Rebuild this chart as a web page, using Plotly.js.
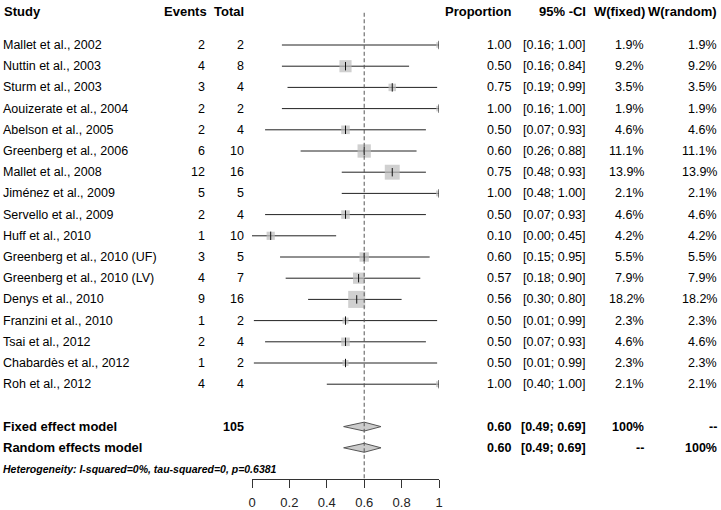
<!DOCTYPE html>
<html>
<head>
<meta charset="utf-8">
<script src="https://cdn.plot.ly/plotly-3.0.1.min.js"></script>
<style>html,body{margin:0;padding:0;background:#fff;}#chart{width:721px;height:510px;}</style>
</head>
<body>
<div id="chart"></div>
<script>
// ---- data ----
const studies = ["Mallet et al., 2002","Nuttin et al., 2003","Sturm et al., 2003","Aouizerate et al., 2004",
  "Abelson et al., 2005","Greenberg et al., 2006","Mallet et al., 2008","Jiménez et al., 2009",
  "Servello et al., 2009","Huff et al., 2010","Greenberg et al., 2010 (UF)","Greenberg et al., 2010 (LV)",
  "Denys et al., 2010","Franzini et al., 2010","Tsai et al., 2012","Chabardès et al., 2012","Roh et al., 2012"];
const events = [2,4,3,2,2,6,12,5,2,1,3,4,9,1,2,1,4];
const totals = [2,8,4,2,4,10,16,5,4,10,5,7,16,2,4,2,4];
const proportion = [1.00,0.50,0.75,1.00,0.50,0.60,0.75,1.00,0.50,0.10,0.60,0.57,0.56,0.50,0.50,0.50,1.00];
const ciLower = [0.16,0.16,0.19,0.16,0.07,0.26,0.48,0.48,0.07,0.00,0.15,0.18,0.30,0.01,0.07,0.01,0.40];
const ciUpper = [1.00,0.84,0.99,1.00,0.93,0.88,0.93,1.00,0.93,0.45,0.95,0.90,0.80,0.99,0.93,0.99,1.00];
const wFixed = [1.9,9.2,3.5,1.9,4.6,11.1,13.9,2.1,4.6,4.2,5.5,7.9,18.2,2.3,4.6,2.3,2.1];
const wRandom = [1.9,9.2,3.5,1.9,4.6,11.1,13.9,2.1,4.6,4.2,5.5,7.9,18.2,2.3,4.6,2.3,2.1];
const models = ["Fixed effect model","Random effects model"];
const modelEst = [0.60,0.60];
const modelLower = [0.49,0.49];
const modelUpper = [0.69,0.69];
const modelWFixed = ["100%","--"];
const modelWRandom = ["--","100%"];
const totalN = 105;
const heterogeneity = "Heterogeneity: I-squared=0%, tau-squared=0, p=0.6381";
const headers = ["Study","Events","Total","Proportion","95% -CI","W(fixed)","W(random)"];
const tickVals = [0,0.2,0.4,0.6,0.8,1];
const tickText = ["0","0.2","0.4","0.6","0.8","1"];

// ---- layout helpers ----
const W = 721, H = 510;
const n = studies.length;
const studyRows = studies.map((s,i)=>i);
const modelRows = [n+1, n+2];
const hetRow = n+3;
const headerRow = -1.56;
const px = v => v / W;
const colRight = {events:207, total:245.5, prop:512.5, ci:588, wf:645.5, wr:718.5};
const FONT = "Liberation Sans, Arial, Helvetica, sans-serif";
const fmt2 = v => v.toFixed(2);

const traces = [];
// CI lines
const lx = [], ly = [];
studies.forEach((s,i)=>{ lx.push(ciLower[i], ciUpper[i], null); ly.push(studyRows[i], studyRows[i], null); });
traces.push({x:lx, y:ly, mode:'lines', line:{color:'#222', width:1}, hoverinfo:'skip', showlegend:false});
// squares
traces.push({x:proportion, y:studyRows, mode:'markers', hoverinfo:'skip', showlegend:false,
  marker:{symbol:'square', color:'#bcbcbc', size:wFixed.map(w=>4*Math.sqrt(w)), line:{width:0}}});
// point tick
traces.push({x:proportion, y:studyRows, mode:'markers', hoverinfo:'skip', showlegend:false,
  marker:{symbol:'line-ns', size:6, color:'#111', line:{width:1, color:'#111'}}});
// diamonds
models.forEach((m,k)=>{
  const r = modelRows[k], h = 0.21;
  traces.push({x:[modelLower[k], modelEst[k], modelUpper[k], modelEst[k], modelLower[k]],
    y:[r, r-h, r, r+h, r], mode:'lines', fill:'toself', fillcolor:'#cccccc',
    line:{color:'#555', width:1}, hoverinfo:'skip', showlegend:false});
});

const ann = [];
function txt(x, y, text, anchor, opts={}) {
  ann.push(Object.assign({xref:'paper', yref:'y', x:px(x), y:y, text:text, xanchor:anchor, yanchor:'middle',
    showarrow:false, font:{family:FONT, size:12.5, color:'#000'}}, opts));
}
const bold = {font:{family:FONT, size:13, color:'#000', weight:'bold'}};
// headers
txt(2, headerRow, headers[0], 'left', bold);
txt(colRight.events+1.5, headerRow, headers[1], 'right', bold);
txt(colRight.total+0.5, headerRow, headers[2], 'right', bold);
txt(colRight.prop, headerRow, headers[3], 'right', bold);
txt(colRight.ci, headerRow, headers[4], 'right', bold);
txt(colRight.wf+1, headerRow, headers[5], 'right', bold);
txt(colRight.wr, headerRow, headers[6], 'right', bold);
// studies
studies.forEach((s,i)=>{
  const r = studyRows[i];
  txt(1, r, s, 'left');
  txt(colRight.events, r, String(events[i]), 'right');
  txt(colRight.total, r, String(totals[i]), 'right');
  txt(colRight.prop, r, fmt2(proportion[i]), 'right');
  txt(colRight.ci, r, '[' + fmt2(ciLower[i]) + '; ' + fmt2(ciUpper[i]) + ']', 'right');
  txt(colRight.wf, r, wFixed[i].toFixed(1) + '%', 'right');
  txt(colRight.wr, r, wRandom[i].toFixed(1) + '%', 'right');
});
// models
const boldBody = {font:{family:FONT, size:12.5, color:'#000', weight:'bold'}};
const boldModel = {font:{family:FONT, size:13, color:'#000', weight:'bold'}};
models.forEach((m,k)=>{
  const r = modelRows[k];
  txt(1, r, m, 'left', boldModel);
  if (k===0) txt(colRight.total, r, String(totalN), 'right', boldBody);
  txt(colRight.prop, r, fmt2(modelEst[k]), 'right', boldBody);
  txt(colRight.ci, r, '[' + fmt2(modelLower[k]) + '; ' + fmt2(modelUpper[k]) + ']', 'right', boldBody);
  txt(colRight.wf, r, modelWFixed[k], 'right', boldBody);
  txt(colRight.wr, r, modelWRandom[k], 'right', boldBody);
});
txt(1, hetRow, '<b><i>' + heterogeneity + '</i></b>', 'left', {font:{family:FONT, size:10.5, color:'#000'}});

const rowPx = 21.2, firstRowPx = 45, axisPx = 479;
const yTop = -firstRowPx/rowPx, yBottom = (axisPx-firstRowPx)/rowPx;

const layout = {
  width:W, height:H, margin:{l:0, r:0, t:0, b:H-axisPx, pad:0},
  paper_bgcolor:'#fff', plot_bgcolor:'rgba(0,0,0,0)', showlegend:false,
  xaxis:{domain:[252/W, 439/W], range:[0,1], showgrid:false, zeroline:false, showline:true,
    linecolor:'#333', linewidth:1, ticks:'outside', ticklen:8, tickwidth:1, tickcolor:'#333',
    ticklabelstandoff:3,
    tickvals:tickVals, ticktext:tickText, tickfont:{family:FONT, size:13, color:'#222'}, fixedrange:true},
  yaxis:{range:[yBottom, yTop], visible:false, showgrid:false, zeroline:false, fixedrange:true},
  shapes:[{type:'line', xref:'x', yref:'y', x0:modelEst[0], x1:modelEst[0], y0:-1.52, y1:yBottom,
    line:{color:'#555', width:1, dash:'4px,2.5px'}}],
  annotations:ann
};
Plotly.newPlot('chart', traces, layout, {staticPlot:true, displayModeBar:false});
</script>
</body>
</html>
